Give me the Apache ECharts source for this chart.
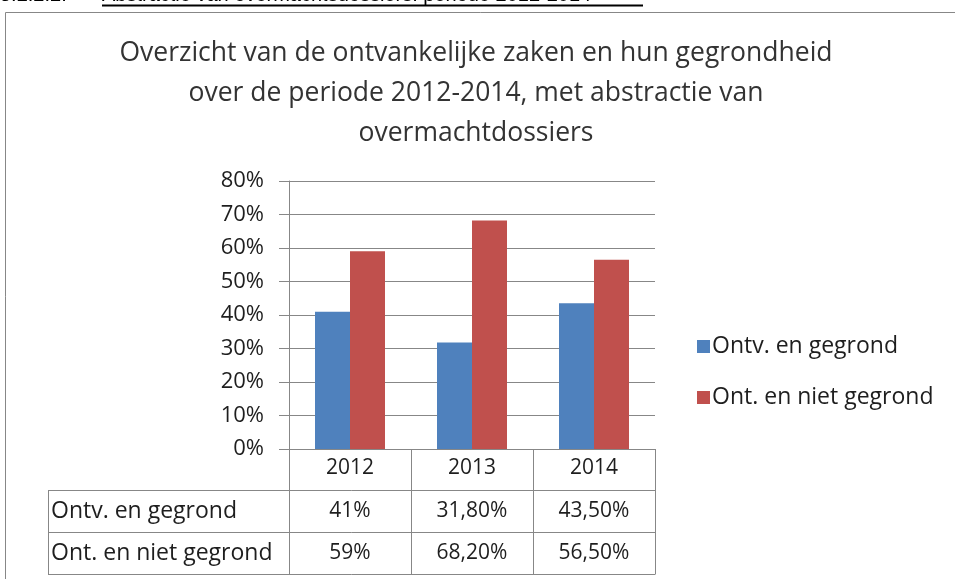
<!DOCTYPE html>
<html>
<head>
<meta charset="utf-8">
<script src="https://cdn.jsdelivr.net/npm/echarts@6/dist/echarts.min.js"></script>
<style>
  html, body { margin: 0; padding: 0; background: #fff; }
  #chart { width: 955px; height: 579px; }
</style>
</head>
<body>
<div id="chart"></div>
<script>
// data
const years = ['2012', '2013', '2014'];
const seriesNames = ['Ontv. en gegrond', 'Ont. en niet gegrond'];
const gegrond = [41, 31.8, 43.5];
const nietGegrond = [59, 68.2, 56.5];
const yTicks = [0, 10, 20, 30, 40, 50, 60, 70, 80];

const blue = '#4F81BD';
const red = '#C0504D';
const lineCol = '#878787';
const txtCol = '#1e1e1e';
const font = '"Open Sans", sans-serif';

// layout of plot (px)
const plotLeft = 289, plotRight = 655, plotTop = 181, plotBottom = 449;
const rowH = 42;
const tableLeft = 48;

// waarde -> "31,80%" zoals in de tabel
const fmt = v => Number.isInteger(v) ? v + '%' : v.toFixed(2).replace('.', ',') + '%';

const chart = echarts.init(document.getElementById('chart'), null, { renderer: 'canvas' });

const graphic = [];
const colW = (plotRight - plotLeft) / years.length;
const rows = [gegrond, nietGegrond];
// kader rond de hele grafiek
graphic.push({ type: 'rect', shape: { x: 5.5, y: 12.5, width: 1000, height: 700 }, style: { fill: 'none', stroke: lineCol, lineWidth: 1 } });
// afgeknipte kop bovenaan
graphic.push({ type: 'text', x: 0, y: 5, style: { text: '5.2.2.2.', font: '20px Arial', fill: '#000', verticalAlign: 'bottom' } });
graphic.push({ type: 'text', x: 102, y: 5, style: { text: 'Abstractie van overmachtsdossiers: periode 2012-2014', font: '20px Arial', fill: '#000', verticalAlign: 'bottom' } });
graphic.push({ type: 'line', shape: { x1: 102, y1: 5.5, x2: 643, y2: 5.5 }, style: { stroke: '#000', lineWidth: 2 } });

// tabel onder de grafiek
const headerBottom = plotBottom + 41;
const tableBottom = headerBottom + rowH * 2;
for (let i = 0; i <= years.length; i++) {
  const x = Math.round(plotLeft + i * colW) + 0.5;
  graphic.push({ type: 'line', shape: { x1: x, y1: plotBottom, x2: x, y2: tableBottom }, style: { stroke: lineCol, lineWidth: 1 } });
}
graphic.push({ type: 'line', shape: { x1: tableLeft + 0.5, y1: headerBottom, x2: tableLeft + 0.5, y2: tableBottom }, style: { stroke: lineCol, lineWidth: 1 } });
for (let r = 0; r <= 2; r++) {
  const y = headerBottom + r * rowH + 0.5;
  graphic.push({ type: 'line', shape: { x1: tableLeft, y1: y, x2: plotRight + 0.5, y2: y }, style: { stroke: lineCol, lineWidth: 1 } });
}
rows.forEach((vals, r) => {
  const cy = headerBottom + rowH * r + rowH / 2;
  graphic.push({ type: 'text', x: tableLeft + 3, y: cy, style: { text: seriesNames[r], font: '23px ' + font, fill: txtCol, verticalAlign: 'middle' } });
  vals.forEach((v, i) => {
    graphic.push({ type: 'text', x: plotLeft + colW * (i + 0.5), y: cy, style: { text: fmt(v), font: '21px ' + font, fill: txtCol, align: 'center', verticalAlign: 'middle' } });
  });
});

const option = {
  animation: false,
  title: {
    text: 'Overzicht van de ontvankelijke zaken en hun gegrondheid\nover de periode 2012-2014, met abstractie van\novermachtdossiers',
    left: 471,
    textAlign: 'center',
    top: 28,
    textStyle: { fontFamily: font, fontSize: 26.5, fontWeight: 'normal', color: '#333', lineHeight: 40 }
  },
  grid: { left: plotLeft, right: 955 - plotRight, top: plotTop, bottom: 579 - plotBottom },
  legend: {
    orient: 'vertical',
    left: 692,
    top: 330,
    itemGap: 28,
    itemWidth: 13,
    itemHeight: 13,
    icon: 'rect',
    textStyle: { fontFamily: font, fontSize: 23, color: txtCol, padding: [0, 0, 0, -3] },
    data: seriesNames
  },
  xAxis: {
    type: 'category',
    data: years,
    axisLine: { show: true, lineStyle: { color: lineCol } },
    axisTick: { show: false },
    axisLabel: { fontFamily: font, fontSize: 21, color: txtCol, margin: 9 }
  },
  yAxis: {
    type: 'value',
    min: yTicks[0],
    max: yTicks[yTicks.length - 1],
    interval: 10,
    axisLine: { show: true, lineStyle: { color: lineCol } },
    axisTick: { show: true, length: 10, lineStyle: { color: lineCol } },
    splitLine: { show: true, lineStyle: { color: lineCol } },
    axisLabel: { fontFamily: font, fontSize: 22, color: txtCol, margin: 25, formatter: '{value}%' }
  },
  series: [
    { name: seriesNames[0], type: 'bar', data: gegrond, itemStyle: { color: blue }, barWidth: 35, barGap: '0%' },
    { name: seriesNames[1], type: 'bar', data: nietGegrond, itemStyle: { color: red }, barWidth: 35, barGap: '0%' }
  ],
  graphic: graphic
};
chart.setOption(option);
</script>
</body>
</html>
